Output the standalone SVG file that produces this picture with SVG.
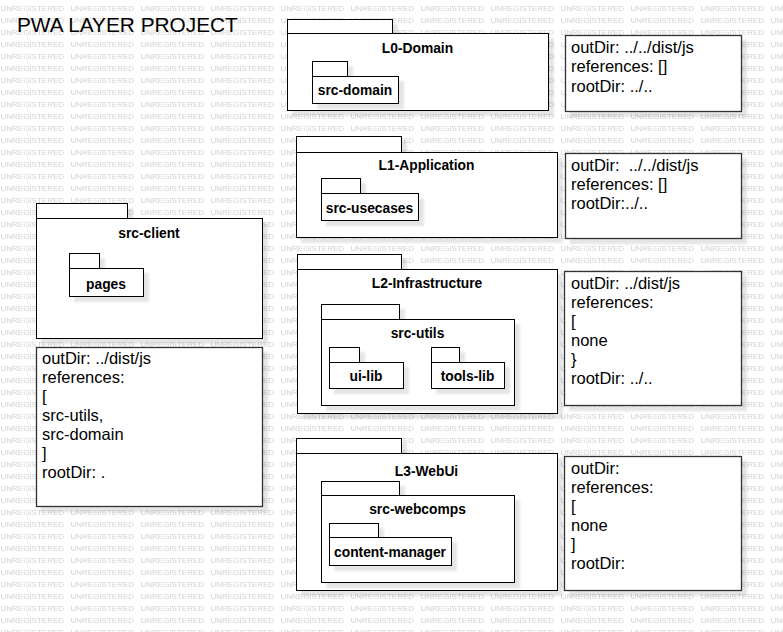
<svg xmlns="http://www.w3.org/2000/svg" width="783" height="632" viewBox="0 0 783 632">
<defs>
<pattern id="wm" patternUnits="userSpaceOnUse" x="0" y="0" width="70" height="12">
<text x="0.5" y="11.3" class="wmt">UNREGISTERED</text>
</pattern>
<filter id="sh" x="-10%" y="-10%" width="130%" height="130%">
<feGaussianBlur in="SourceAlpha" stdDeviation="1.2"/>
<feOffset dx="5" dy="5" result="b"/>
<feFlood flood-color="#000" flood-opacity="0.1"/>
<feComposite in2="b" operator="in"/>
<feMerge><feMergeNode/><feMergeNode in="SourceGraphic"/></feMerge>
</filter>
<style>
.wmt{font-family:"Liberation Sans",Arial,sans-serif;font-size:8px;fill:#d2d2d2;}
.pk rect{fill:#fff;stroke:#000;stroke-width:1;}
.lbl{font-family:"Liberation Sans",Arial,sans-serif;font-size:13.8px;font-weight:bold;fill:#000;text-anchor:middle;}
.note rect{fill:#fff;stroke:#333;stroke-width:1.3;}
.nt{font-family:"Liberation Sans",Arial,sans-serif;font-size:16.5px;fill:#000;white-space:pre;}
.title{font-family:"Liberation Sans",Arial,sans-serif;font-size:20.8px;fill:#000;}
</style>
</defs>
<rect x="0" y="0" width="783" height="632" fill="#fff"/>
<rect x="0" y="0" width="783" height="632" fill="url(#wm)"/>
<text class="title" x="17" y="32">PWA LAYER PROJECT</text>

<g id="L0-Domain" class="pk">
<g filter="url(#sh)"><rect x="287.5" y="19.5" width="105" height="14"/><rect x="287.5" y="33.5" width="261" height="77"/></g>
<text class="lbl" x="417.5" y="53">L0-Domain</text>
<g id="src-domain">
<g filter="url(#sh)"><rect x="312.5" y="61.5" width="35" height="15"/><rect x="312.5" y="76.5" width="86" height="27"/></g>
<text class="lbl" x="355" y="94.5">src-domain</text>
</g>
</g>

<g id="L1-Application" class="pk">
<g filter="url(#sh)"><rect x="296.5" y="136.5" width="105" height="16"/><rect x="296.5" y="152.5" width="261" height="85"/></g>
<text class="lbl" x="426.5" y="169.5">L1-Application</text>
<g id="src-usecases">
<g filter="url(#sh)"><rect x="321.5" y="178.5" width="39" height="15"/><rect x="321.5" y="193.5" width="97" height="27"/></g>
<text class="lbl" x="369.5" y="212.5">src-usecases</text>
</g>
</g>

<g id="src-client" class="pk">
<g filter="url(#sh)"><rect x="36.5" y="203.5" width="91" height="15"/><rect x="36.5" y="218.5" width="226" height="120"/></g>
<text class="lbl" x="149" y="237.5">src-client</text>
<g id="pages">
<g filter="url(#sh)"><rect x="69.5" y="253.5" width="30" height="15"/><rect x="69.5" y="268.5" width="74" height="28"/></g>
<text class="lbl" x="106" y="288.5">pages</text>
</g>
</g>

<g id="L2-Infrastructure" class="pk">
<g filter="url(#sh)"><rect x="297.5" y="254.5" width="104" height="15"/><rect x="297.5" y="269.5" width="260" height="144"/></g>
<text class="lbl" x="427" y="287.5">L2-Infrastructure</text>
<g id="src-utils">
<g filter="url(#sh)"><rect x="321.5" y="304.5" width="78" height="15"/><rect x="321.5" y="319.5" width="193" height="86"/></g>
<text class="lbl" x="417.5" y="337.5">src-utils</text>
<g id="ui-lib">
<g filter="url(#sh)"><rect x="329.5" y="347.5" width="30" height="15"/><rect x="329.5" y="362.5" width="74" height="26"/></g>
<text class="lbl" x="366" y="380.5">ui-lib</text>
</g>
<g id="tools-lib">
<g filter="url(#sh)"><rect x="431.5" y="347.5" width="28" height="15"/><rect x="431.5" y="362.5" width="73" height="26"/></g>
<text class="lbl" x="467.5" y="380.5">tools-lib</text>
</g>
</g>
</g>

<g id="L3-WebUi" class="pk">
<g filter="url(#sh)"><rect x="296.5" y="438.5" width="105" height="15"/><rect x="296.5" y="453.5" width="261" height="137"/></g>
<text class="lbl" x="426.5" y="475.5">L3-WebUi</text>
<g id="src-webcomps">
<g filter="url(#sh)"><rect x="321.5" y="481.5" width="78" height="14"/><rect x="321.5" y="495.5" width="193" height="87"/></g>
<text class="lbl" x="417.5" y="513.5">src-webcomps</text>
<g id="content-manager">
<g filter="url(#sh)"><rect x="329.5" y="523.5" width="49" height="14"/><rect x="329.5" y="537.5" width="122" height="28"/></g>
<text class="lbl" x="390" y="557">content-manager</text>
</g>
</g>
</g>

<g id="note-L0" class="note">
<rect x="565.5" y="35.5" width="176" height="76" filter="url(#sh)"/>
<text class="nt" x="571" y="52.5">outDir: ../../dist/js</text>
<text class="nt" x="571" y="72">references: []</text>
<text class="nt" x="571" y="91.5">rootDir: ../..</text>
</g>

<g id="note-L1" class="note">
<rect x="565.5" y="153.5" width="176" height="85" filter="url(#sh)"/>
<text class="nt" x="571" y="171">outDir:  ../../dist/js</text>
<text class="nt" x="571" y="190">references: []</text>
<text class="nt" x="571" y="209">rootDir:../..</text>
</g>

<g id="note-client" class="note">
<rect x="36.5" y="347.5" width="226" height="159" filter="url(#sh)"/>
<text class="nt" x="42" y="364">outDir: ../dist/js</text>
<text class="nt" x="42" y="383">references:</text>
<text class="nt" x="42" y="402">[</text>
<text class="nt" x="42" y="421">src-utils,</text>
<text class="nt" x="42" y="440">src-domain</text>
<text class="nt" x="42" y="459">]</text>
<text class="nt" x="42" y="478">rootDir: .</text>
</g>

<g id="note-L2" class="note">
<rect x="564.5" y="271.5" width="177" height="134" filter="url(#sh)"/>
<text class="nt" x="571" y="289">outDir: ../dist/js</text>
<text class="nt" x="571" y="308">references:</text>
<text class="nt" x="571" y="327">[</text>
<text class="nt" x="571" y="346">none</text>
<text class="nt" x="571" y="365">}</text>
<text class="nt" x="571" y="384">rootDir: ../..</text>
</g>

<g id="note-L3" class="note">
<rect x="564.5" y="456.5" width="177" height="134" filter="url(#sh)"/>
<text class="nt" x="571" y="474">outDir:</text>
<text class="nt" x="571" y="493">references:</text>
<text class="nt" x="571" y="512">[</text>
<text class="nt" x="571" y="531">none</text>
<text class="nt" x="571" y="550">]</text>
<text class="nt" x="571" y="569">rootDir:</text>
</g>

<g id="connectors"/>
</svg>
